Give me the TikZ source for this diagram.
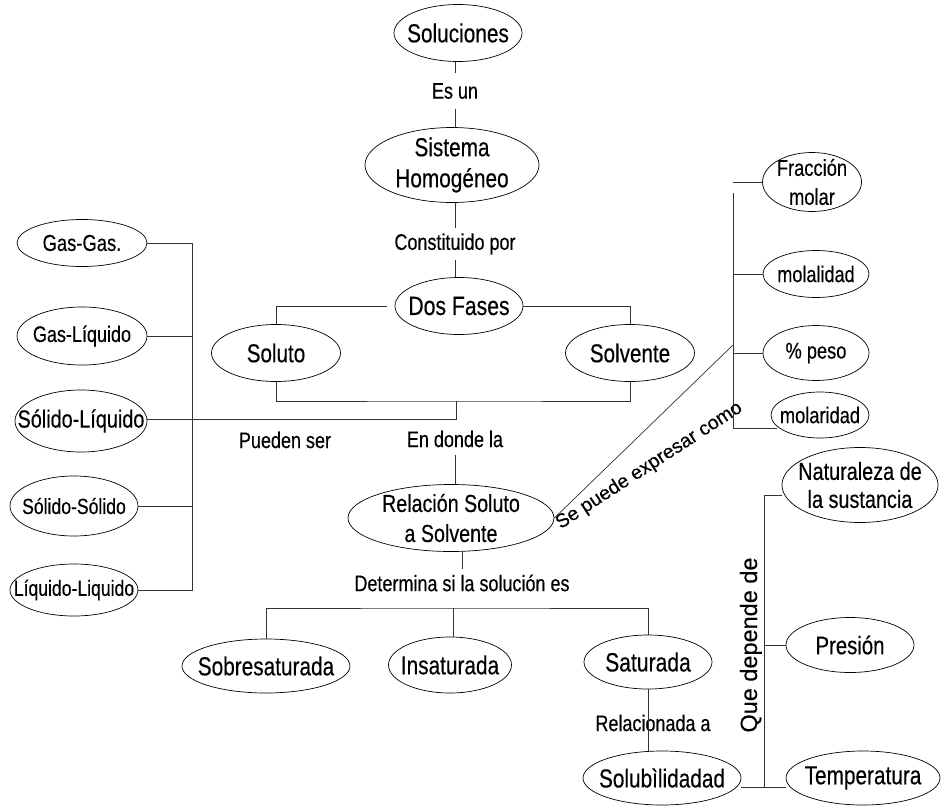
\documentclass[tikz,border=0pt]{standalone}
\usepackage{fontspec}
\setmainfont[FakeStretch=0.8,FakeBold=0.3]{Liberation Sans}
\newfontfamily\plainfont[FakeBold=0.2]{Liberation Sans}
\usetikzlibrary{shapes.geometric}
\tikzset{
  E/.style={draw=black, ellipse, inner sep=0pt, line width=0.7pt},
  T/.style={font=\fontsize{#1}{30}\selectfont, align=center, inner sep=0pt},
  L/.style={font=\fontsize{22.5}{27}\selectfont, inner sep=4pt},
  C/.style={line width=0.7pt, draw=black!80},
}
\begin{document}
\begin{tikzpicture}[x=1pt,y=-1pt]
\useasboundingbox (0,0) rectangle (943,806);
% ellipses
\node[E, minimum width=128pt, minimum height=57pt, label={[T=26]center:Soluciones}] (sol) at (458,33) {};
\node[E, minimum width=174pt, minimum height=75pt, label={[T=26,font=\fontsize{26}{31}\selectfont]center:Sistema\\Homog\'eneo}] (sis) at (452,165) {};
\node[E, minimum width=128pt, minimum height=57pt, label={[T=26.5]center:Dos Fases}] (dos) at (459,306) {};
\node[E, minimum width=129pt, minimum height=57pt, label={[T=25.8]center:Soluto}] (sto) at (276,353) {};
\node[E, minimum width=129pt, minimum height=57pt, label={[T=25.8]center:Solvente}] (ste) at (630,353) {};
\node[E, minimum width=130pt, minimum height=47pt, label={[T=23]center:Gas-Gas.}] (gg) at (82,243) {};
\node[E, minimum width=130pt, minimum height=58pt, label={[T=22.5]center:Gas-L\'iquido}] (gl) at (82,336) {};
\node[E, minimum width=132pt, minimum height=62pt, label={[T=24.8]center:S\'olido-L\'iquido}] (sl) at (81,421) {};
\node[E, minimum width=128pt, minimum height=60pt, label={[T=22]center:S\'olido-S\'olido}] (ss) at (74,506) {};
\node[E, minimum width=128pt, minimum height=52pt, label={[T=22]center:L\'iquido-Liquido}] (ll) at (74,590) {};
\node[E, minimum width=206pt, minimum height=67pt, label={[T=24.6]center:Relaci\'on Soluto\\a Solvente}] (rel) at (451,518) {};
\node[E, minimum width=168pt, minimum height=54pt, label={[T=26]center:Sobresaturada}] (sob) at (266,666) {};
\node[E, minimum width=123pt, minimum height=56pt, label={[T=26]center:Insaturada}] (ins) at (450,665) {};
\node[E, minimum width=128pt, minimum height=54pt, label={[T=26.4]center:Saturada}] (sat) at (648,662) {};
\node[E, minimum width=158pt, minimum height=54pt, label={[T=26]center:Solub\`ilidadad}] (solu) at (662,778) {};
\node[E, minimum width=156pt, minimum height=75pt, label={[T=24.8,font=\fontsize{24.8}{28}\selectfont]center:Naturaleza de\\la sustancia}] (nat) at (860,485) {};
\node[E, minimum width=128pt, minimum height=55pt, label={[T=25.4]center:Presi\'on}] (pre) at (850,645) {};
\node[E, minimum width=154pt, minimum height=54pt, label={[T=26]center:Temperatura}] (tem) at (863,778) {};
\node[E, minimum width=99pt, minimum height=59pt, label={[T=22.9,font=\fontsize{22.9}{29}\selectfont]center:Fracci\'on\\molar}] (fm) at (812,182) {};
\node[E, minimum width=106pt, minimum height=47pt, label={[T=22.6]center:molalidad}] (mol) at (816,274) {};
\node[E, minimum width=106pt, minimum height=55pt, label={[T=22.8]center:\% peso}] (pes) at (816,353) {};
\node[E, minimum width=98pt, minimum height=46pt, label={[T=22.8]center:molaridad}] (mar) at (820,415) {};
% labels
\node[L, inner sep=10pt] (esun) at (455,91) {Es un};
\node[L, inner sep=5pt] (const) at (455,244) {Constituido por};
\node[L] (pued) at (285,440) {Pueden ser};
\node[L, inner sep=8pt] (endo) at (455,439) {En donde la};
\node[L, inner sep=5pt] (det) at (462,583) {Determina si la soluci\'on es};
\node[L, inner sep=0pt] (relac) at (653,723) {Relacionada a};
\node[inner sep=0pt, rotate=33, anchor=base, font=\plainfont\fontsize{19.5}{23}\selectfont] (diag) at (652,470) {Se puede expresar como};
\node[inner sep=0pt, rotate=90, anchor=base, font=\plainfont\fontsize{23.5}{28}\selectfont] (que) at (757,645) {Que depende de};
% coordinates
\coordinate (j1) at (456,401);
\coordinate (j2) at (456,419);
\coordinate (lx) at (192,0);
\coordinate (b1) at (453,608);
\coordinate (rtop) at (764,495);
\coordinate (rbot) at (764,787);
\coordinate (ux) at (733,0);
\coordinate (ut) at (733,193);
\coordinate (ub) at (733,428);
\coordinate (dtop) at (733,345);
% connectors
\draw[C] (esun.north |- sol.south) -- (esun.north);
\draw[C] (esun.south) -- (esun.south |- sis.north);
\draw[C] (const.north |- sis.south) -- (const.north);
\draw[C] (const.south) -- (const.south |- dos.north);
\draw[C] ([xshift=-8pt]dos.west) -| (sto.north);
\draw[C] (dos.east) -| (ste.north);
\draw[C] (sto.south) |- (j1) -| (ste.south);
\draw[C] (j1) -- (j2) -- (j2 -| sl.east);
\draw[C] (gg.east) -- (gg.east -| lx) -- (ll.east -| lx) -- (ll.east);
\draw[C] (gl.east) -- (gl.east -| lx);
\draw[C] (ss.east) -- (ss.east -| lx);
\draw[C] (endo.south) -- (endo.south |- rel.north);
\draw[C] (det.north |- rel.south) -- (det.north);
\draw[C] (sob.north) |- (b1) -| (sat.north);
\draw[C] (b1) -- (b1 |- ins.north);
\draw[C] (sat.south) -- (sat.south |- solu.north);
\draw[C] ([yshift=-10pt]nat.west) -- (rtop) -- (rbot);
\draw[C] (pre.west) -- (pre.west -| rtop);
\draw[C] ([yshift=-9pt]solu.east) -- ([yshift=-9pt]tem.west);
\draw[C] (fm.west) -- (fm.west -| ux);
\draw[C] (ut) -- (ub) -- ([xshift=6pt]ub -| mar.west);
\draw[C] (mol.west) -- (mol.west -| ux);
\draw[C] (pes.west) -- (pes.west -| ux);
\draw[C] (rel.east) -- (dtop);
\end{tikzpicture}
\end{document}
